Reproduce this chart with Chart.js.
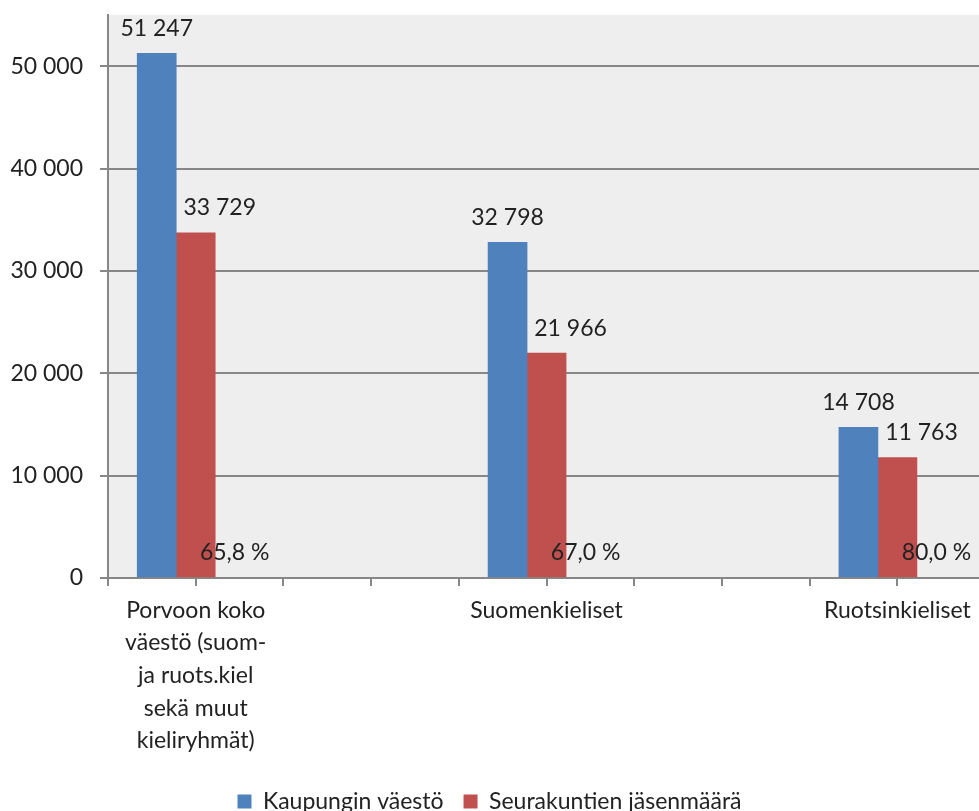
<!DOCTYPE html>
<html>
<head>
<meta charset="utf-8">
<script src="https://cdn.jsdelivr.net/npm/chart.js@4.4.0/dist/chart.umd.min.js"></script>
<style>
  html, body { margin: 0; padding: 0; background: #fff; overflow: hidden; }
  #wrap { width: 979px; height: 811px; position: relative; }
</style>
</head>
<body>
<div id="wrap"><canvas id="myChart"></canvas></div>
<script>
const categories = [
  ['Porvoon koko', 'väestö (suom-', 'ja ruots.kiel', 'sekä muut', 'kieliryhmät)'],
  'Suomenkieliset',
  'Ruotsinkieliset'
]
const kaupunginVaesto = [51247, 32798, 14708]
const seurakuntienJasenmaara = [33729, 21966, 11763]
const osuusProsentteina = [65.8, 67.0, 80.0]
const yTicks = [0, 10000, 20000, 30000, 40000, 50000]

// paikat x-akselilla (alkuperäisessä 4 väliä per ryhmä)
const slots = [1, 5, 9]

const fmt = (v) => String(v).replace(/\B(?=(\d{3})+(?!\d))/g, ' ')

const toPoints = (arr) => arr.map((v, i) => ({ x: slots[i], y: v }))

// taustaväri kuva-alueelle
const plotBg = {
  id: 'plotBg',
  beforeDraw(chart) {
    const { ctx, chartArea } = chart
    ctx.save()
    ctx.fillStyle = '#eeeeee'
    ctx.fillRect(chartArea.left, chartArea.top, chartArea.right - chartArea.left, chartArea.bottom - chartArea.top)
    ctx.restore()
  }
}

// arvot pylväiden päälle
const arvoLabels = {
  id: 'arvoLabels',
  afterDatasetsDraw(chart) {
    const ctx = chart.ctx
    ctx.save()
    ctx.font = '23px Lato'
    ctx.fillStyle = '#222'
    ctx.textAlign = 'center'
    ctx.textBaseline = 'middle'
    chart.data.datasets.forEach((ds, di) => {
      chart.getDatasetMeta(di).data.forEach((bar, i) => {
        let v = ds.data[i].y
        let txt = di == 2 ? v.toFixed(1).replace('.', ',') + ' %' : fmt(v)
        let dx = di == 1 ? 24 : 0
        ctx.fillText(txt, bar.x + dx, bar.y - 25)
      })
    })
    ctx.restore()
  }
}

Chart.defaults.font.family = 'Lato'
Chart.defaults.font.size = 23
Chart.defaults.color = '#222'

const ctx = document.getElementById('myChart')

new Chart(ctx, {
  type: 'bar',
  data: {
    datasets: [{
      label: 'Kaupungin väestö',
      data: toPoints(kaupunginVaesto),
      backgroundColor: '#4f81bd',
      borderWidth: 0
    }, {
      label: 'Seurakuntien jäsenmäärä',
      data: toPoints(seurakuntienJasenmaara),
      backgroundColor: '#c0504d',
      borderWidth: 0
    }, {
      label: 'Osuus',
      data: toPoints(osuusProsentteina),
      backgroundColor: 'rgba(0,0,0,0)',
      borderWidth: 0
    }]
  },
  options: {
    responsive: true,
    maintainAspectRatio: false,
    animation: false,
    barThickness: 39,
    layout: { padding: { top: 15, left: 0, right: 0, bottom: -12 } },
    plugins: {
      tooltip: { enabled: false },
      legend: {
        position: 'bottom',
        labels: {
          boxWidth: 14,
          boxHeight: 14,
          padding: 20,
          font: { size: 23 },
          color: '#222',
          filter: (item) => item.datasetIndex < 2
        }
      }
    },
    scales: {
      x: {
        type: 'linear',
        offset: false,
        min: 0,
        max: 9.93,
        afterBuildTicks: (scale) => {
          let t = []
          for (let i = 0; i <= Math.floor(scale.max); i++) t.push({ value: i })
          scale.ticks = t
        },
        afterFit: (scale) => {
          scale.height = 192
          scale.paddingLeft = 0
          scale.paddingRight = 0
        },
        grid: {
          offset: false,
          drawOnChartArea: false,
          drawTicks: true,
          tickLength: 8,
          color: '#878787',
          lineWidth: 2
        },
        border: { color: '#878787', width: 2 },
        ticks: {
          autoSkip: false,
          maxRotation: 0,
          padding: 8,
          font: { size: 23, lineHeight: 1.42 },
          callback: (value) => {
            let i = slots.indexOf(value)
            return i >= 0 ? categories[i] : ''
          }
        }
      },
      y: {
        min: 0,
        max: 55000,
        afterBuildTicks: (scale) => { scale.ticks = yTicks.map(v => ({ value: v })) },
        afterFit: (scale) => {
          scale.width = 108
          scale.paddingTop = 0
          scale.paddingBottom = 0
        },
        grid: {
          color: '#878787',
          lineWidth: 2,
          tickLength: 8
        },
        border: { color: '#878787', width: 2 },
        ticks: {
          padding: 17,
          font: { size: 23 },
          callback: (v) => fmt(v)
        }
      }
    }
  },
  plugins: [plotBg, arvoLabels]
})
</script>
</body>
</html>
